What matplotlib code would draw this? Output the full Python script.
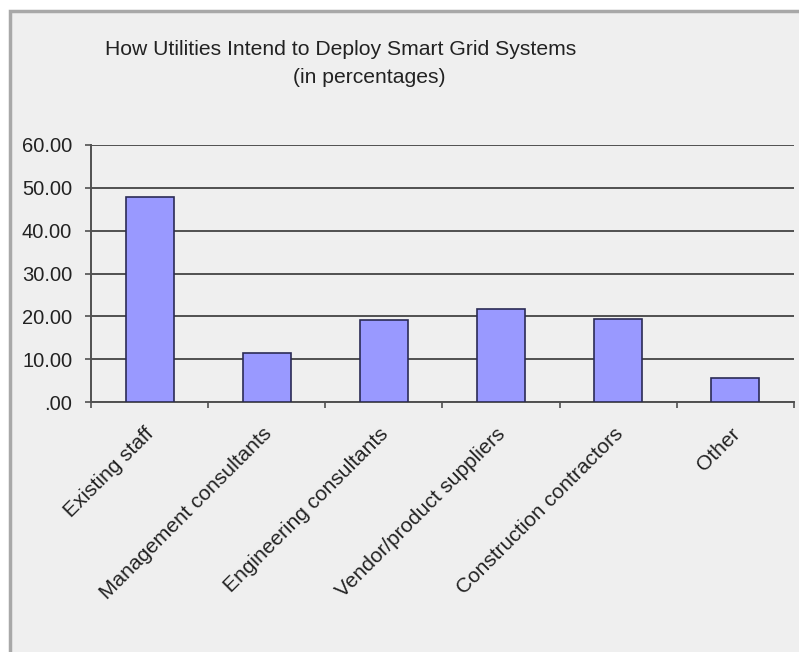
import numpy as np
import matplotlib.pyplot as plt
import matplotlib.transforms as mtransforms
from matplotlib.patches import Rectangle

plt.rcParams['font.family'] = ['Liberation Sans', 'DejaVu Sans']

# data
categories = ['Existing staff', 'Management consultants', 'Engineering consultants',
              'Vendor/product suppliers', 'Construction contractors', 'Other']
values = [47.9, 11.5, 19.1, 21.7, 19.3, 5.6]
yticks = [0, 10, 20, 30, 40, 50, 60]
ytick_labels = ['.00', '10.00', '20.00', '30.00', '40.00', '50.00', '60.00']

bg = '#efefef'
fig = plt.figure(figsize=(7.99, 6.52), dpi=100, facecolor='white')

# outer chart frame (grey line on top and left, like the cropped screenshot)
top = 1 - 11 / 652
fig.patches.append(Rectangle((10 / 799, -0.2), 1.2, top + 0.2, transform=fig.transFigure,
                             facecolor=bg, edgecolor='#a8a8a8', linewidth=2.5, zorder=-5))

ax = fig.add_axes([91 / 799, 1 - 402 / 652, (794 - 91) / 799, (402 - 145) / 652])
ax.set_facecolor(bg)

x = np.arange(len(categories))
ax.bar(x, values, width=0.41, color='#9999ff', edgecolor='#2b2b55', linewidth=1.2, zorder=3)

ax.set_xlim(-0.5, len(categories) - 0.5)
ax.set_ylim(0, 60)
ax.set_yticks(yticks)
ax.set_yticklabels(ytick_labels)
ax.yaxis.grid(True, color='#505050', linewidth=1.4)
ax.set_axisbelow(True)

for s in ['top', 'right']:
    ax.spines[s].set_visible(False)
for s in ['left', 'bottom']:
    ax.spines[s].set_color('#505050')
    ax.spines[s].set_linewidth(1.4)

# x ticks at category boundaries, labels at centres
ax.set_xticks(np.arange(len(categories) + 1) - 0.5)
ax.set_xticklabels([])
ax.set_xticks(x, minor=True)
ax.set_xticklabels(categories, minor=True, rotation=45, ha='right',
                   rotation_mode='anchor', fontsize=15, color='#222222')
ax.tick_params(axis='x', which='minor', length=0, pad=16)
ax.tick_params(axis='x', which='major', length=4, width=1.2, color='#505050', direction='out')
ax.tick_params(axis='y', length=4.5, width=1.2, color='#505050', labelsize=14.5,
               labelcolor='#222222', pad=9)

# nudge rotated labels a little to the left
shift = mtransforms.ScaledTranslation(-5 / 100, 0, fig.dpi_scale_trans)
for lbl in ax.get_xticklabels(minor=True):
    lbl.set_transform(lbl.get_transform() + shift)

fig.text(105 / 799, 1 - 55 / 652, 'How Utilities Intend to Deploy Smart Grid Systems',
         fontsize=15.2, color='#222222', ha='left', va='baseline')
fig.text(293 / 799, 1 - 83 / 652, '(in percentages)',
         fontsize=15.2, color='#222222', ha='left', va='baseline')

fig.savefig('out.png', dpi=100, facecolor='white')
